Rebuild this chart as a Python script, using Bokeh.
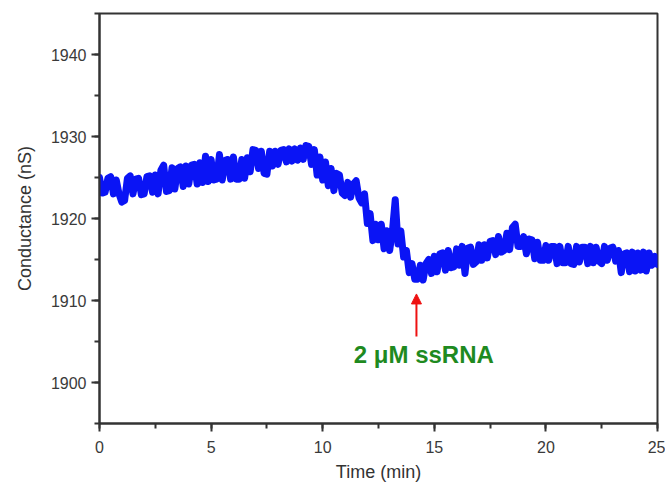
import numpy as np
from bokeh.plotting import figure
from bokeh.models import Range1d, SingleIntervalTicker, Arrow, NormalHead, Label
from bokeh.embed import file_html
from bokeh.resources import INLINE

# Time grid (min), sampled every 0.125 min
time_min = np.linspace(0, 25, 201)

# Conductance (nS)
conductance = [
    1925.0, 1923.1, 1923.2, 1924.9, 1925.1, 1923.0, 1924.7, 1923.0,
    1922.0, 1922.2, 1924.9, 1925.2, 1923.0, 1924.8, 1924.9, 1922.9,
    1923.0, 1925.1, 1925.2, 1923.2, 1925.3, 1923.0, 1925.9, 1926.5,
    1923.3, 1923.4, 1926.2, 1923.6, 1926.1, 1926.3, 1923.9, 1926.4,
    1924.2, 1926.5, 1926.6, 1924.2, 1926.8, 1924.4, 1927.6, 1924.5,
    1927.2, 1924.7, 1924.8, 1927.8, 1924.7, 1927.1, 1927.2, 1924.8,
    1927.5, 1924.8, 1924.8, 1927.2, 1924.9, 1927.4, 1925.7, 1928.4,
    1928.3, 1926.1, 1928.2, 1925.5, 1925.4, 1928.2, 1926.4, 1928.2,
    1926.6, 1928.3, 1928.4, 1926.9, 1928.5, 1927.0, 1928.5, 1927.1,
    1928.6, 1927.2, 1928.9, 1928.8, 1926.6, 1928.4, 1925.3, 1927.5,
    1924.7, 1926.9, 1924.0, 1926.1, 1923.4, 1925.5, 1925.3, 1923.1,
    1922.8, 1924.4, 1922.6, 1924.2, 1924.6, 1922.5, 1921.9, 1923.0,
    1919.4, 1920.6, 1917.3, 1919.3, 1917.4, 1919.3, 1916.3, 1918.5,
    1916.1, 1918.5, 1922.3, 1916.9, 1918.5, 1915.3, 1916.1, 1913.4,
    1914.5, 1912.6, 1912.6, 1914.3, 1912.5, 1914.5, 1915.0, 1913.3,
    1915.4, 1913.5, 1915.7, 1915.8, 1913.7, 1916.1, 1914.0, 1914.1,
    1916.3, 1914.3, 1916.6, 1913.3, 1916.4, 1916.5, 1914.4, 1914.7,
    1916.8, 1914.9, 1916.8, 1915.2, 1917.2, 1917.3, 1915.6, 1917.8,
    1915.9, 1916.1, 1918.2, 1916.2, 1918.9, 1919.3, 1916.6, 1916.6,
    1917.8, 1915.7, 1917.5, 1917.4, 1915.1, 1917.1, 1914.9, 1914.9,
    1916.7, 1914.9, 1916.6, 1916.6, 1914.5, 1916.6, 1914.6, 1914.6,
    1916.6, 1914.5, 1914.4, 1916.6, 1914.7, 1916.5, 1916.5, 1914.5,
    1916.6, 1914.6, 1916.5, 1914.8, 1914.5, 1916.6, 1914.9, 1916.4,
    1916.5, 1914.8, 1916.1, 1913.4, 1915.7, 1915.8, 1913.5, 1915.9,
    1913.6, 1915.8, 1913.7, 1915.9, 1913.6, 1915.8, 1914.3, 1915.4,
    1914.4,
]

# Texts
x_title = "Time (min)"
y_title = "Conductance (nS)"
annot_text = "2 \u03bcM ssRNA"
annot_x = 14.53
annot_y = 1903.4
arrow_x = 14.2
arrow_y_start = 1905.6
arrow_y_end = 1910.8

FONT = "Liberation Sans"
AX_COLOR = "#333333"

p = figure(width=665, height=486, output_backend="svg", toolbar_location=None,
           x_range=Range1d(0, 25), y_range=Range1d(1895, 1945),
           min_border_left=99, min_border_right=8, min_border_top=13,
           min_border_bottom=63)

p.line(time_min, conductance, line_color="#0a14f5", line_width=7,
       line_join="round", line_cap="round")

p.xaxis.ticker = SingleIntervalTicker(interval=5, num_minor_ticks=2)
p.yaxis.ticker = SingleIntervalTicker(interval=10, num_minor_ticks=2)
p.xgrid.visible = False
p.ygrid.visible = False

for ax in (p.xaxis[0], p.yaxis[0]):
    ax.axis_line_color = AX_COLOR
    ax.axis_line_width = 2
    ax.major_tick_line_color = AX_COLOR
    ax.major_tick_line_width = 2
    ax.minor_tick_line_color = AX_COLOR
    ax.minor_tick_line_width = 2
    ax.major_tick_out = 8
    ax.major_tick_in = 0
    ax.minor_tick_out = 5
    ax.minor_tick_in = 0
    ax.major_label_text_font = FONT
    ax.major_label_text_font_size = "16px"
    ax.major_label_text_color = "#3a3a3a"
    ax.axis_label_text_font = FONT
    ax.axis_label_text_font_size = "18px"
    ax.axis_label_text_font_style = "normal"
    ax.axis_label_text_color = "#333333"

p.xaxis.axis_label = x_title
p.yaxis.axis_label = y_title
p.xaxis.major_label_standoff = 9
p.yaxis.major_label_standoff = 5
p.xaxis.axis_label_standoff = 6
p.yaxis.axis_label_standoff = 13

p.outline_line_color = AX_COLOR
p.outline_line_width = 2
p.outline_line_alpha = 1

p.add_layout(Arrow(end=NormalHead(size=10, fill_color="#ee1111", line_color="#ee1111"),
                   x_start=arrow_x, y_start=arrow_y_start,
                   x_end=arrow_x, y_end=arrow_y_end,
                   line_color="#ee1111", line_width=2))

p.add_layout(Label(x=annot_x, y=annot_y, text=annot_text, text_align="center",
                   text_baseline="middle", text_font=FONT, text_font_size="24px",
                   text_font_style="bold", text_color="#1f8a1f"))

open("out.html", "w").write(file_html(p, INLINE))
